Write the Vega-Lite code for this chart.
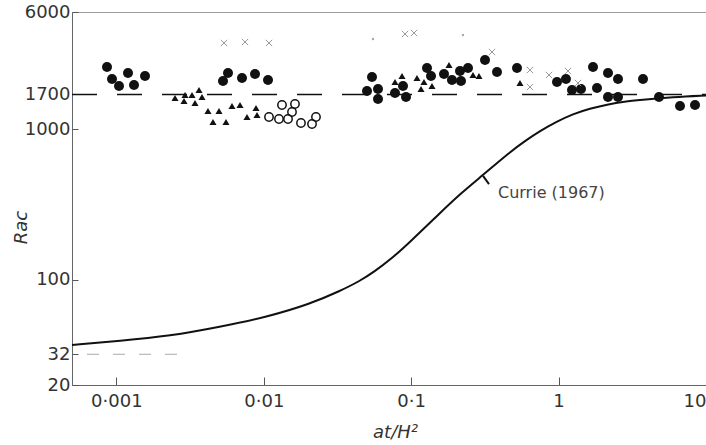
{
  "$schema": "https://vega.github.io/schema/vega-lite/v6.json",
  "width": 634,
  "height": 373,
  "autosize": {"type": "none"},
  "padding": {"left": 72, "top": 12, "right": 0, "bottom": 60},
  "background": "white",
  "config": {"view": {"stroke": "#9a9a9a", "strokeWidth": 1}, "font": "DejaVu Sans"},
  "datasets": {
    "curve": [
      {"t": 0.0005, "ra": 36.9}, {"t": 0.001058, "ra": 39.2}, {"t": 0.002311, "ra": 42.3},
      {"t": 0.005047, "ra": 48.6}, {"t": 0.01051, "ra": 56.6}, {"t": 0.02058, "ra": 69.0},
      {"t": 0.03289, "ra": 84.2}, {"t": 0.04495, "ra": 98.1}, {"t": 0.05683, "ra": 114.3},
      {"t": 0.07184, "ra": 135.3}, {"t": 0.09815, "ra": 178.1}, {"t": 0.1568, "ra": 277.5},
      {"t": 0.2143, "ra": 371.1}, {"t": 0.3071, "ra": 496.2}, {"t": 0.4681, "ra": 705.3},
      {"t": 0.5918, "ra": 834.4}, {"t": 0.7479, "ra": 972.3}, {"t": 0.9601, "ra": 1116},
      {"t": 1.252, "ra": 1261}, {"t": 1.633, "ra": 1372}, {"t": 2.13, "ra": 1458},
      {"t": 2.82, "ra": 1527}, {"t": 3.566, "ra": 1562}, {"t": 5.972, "ra": 1636},
      {"t": 10, "ra": 1674}
    ],
    "filled": [
      {"t": 0.000864, "ra": 2588}, {"t": 0.000934, "ra": 2154}, {"t": 0.001042, "ra": 1935},
      {"t": 0.001199, "ra": 2361}, {"t": 0.001317, "ra": 1965}, {"t": 0.001564, "ra": 2255},
      {"t": 0.005718, "ra": 2361}, {"t": 0.005289, "ra": 2089}, {"t": 0.007116, "ra": 2187},
      {"t": 0.008718, "ra": 2325}, {"t": 0.01068, "ra": 2121},
      {"t": 0.05422, "ra": 2221}, {"t": 0.05015, "ra": 1793}, {"t": 0.05954, "ra": 1849},
      {"t": 0.05954, "ra": 1586}, {"t": 0.07767, "ra": 1739}, {"t": 0.08802, "ra": 1935},
      {"t": 0.09221, "ra": 1636}, {"t": 0.128, "ra": 2549}, {"t": 0.1363, "ra": 2255},
      {"t": 0.167, "ra": 2325}, {"t": 0.1891, "ra": 2121}, {"t": 0.2177, "ra": 2089},
      {"t": 0.2143, "ra": 2434}, {"t": 0.2429, "ra": 2549}, {"t": 0.3168, "ra": 2880},
      {"t": 0.3821, "ra": 2397}, {"t": 0.5222, "ra": 2549}, {"t": 0.9752, "ra": 2057},
      {"t": 1.122, "ra": 2154}, {"t": 1.233, "ra": 1821}, {"t": 1.419, "ra": 1849},
      {"t": 1.712, "ra": 2588}, {"t": 1.822, "ra": 1877}, {"t": 2.163, "ra": 2361},
      {"t": 2.163, "ra": 1636}, {"t": 2.529, "ra": 2154}, {"t": 2.529, "ra": 1636},
      {"t": 3.738, "ra": 2154}, {"t": 4.799, "ra": 1636}, {"t": 6.663, "ra": 1425},
      {"t": 8.422, "ra": 1447}
    ],
    "tri": [
      {"t": 0.002499, "ra": 1611}, {"t": 0.002876, "ra": 1539}, {"t": 0.002922, "ra": 1686},
      {"t": 0.003259, "ra": 1686}, {"t": 0.003635, "ra": 1821}, {"t": 0.003809, "ra": 1636},
      {"t": 0.003415, "ra": 1492}, {"t": 0.004182, "ra": 1320}, {"t": 0.004968, "ra": 1320},
      {"t": 0.004523, "ra": 1116}, {"t": 0.005542, "ra": 1116}, {"t": 0.006086, "ra": 1425},
      {"t": 0.006898, "ra": 1447}, {"t": 0.007695, "ra": 1205}, {"t": 0.008995, "ra": 1242},
      {"t": 0.008856, "ra": 1382}, {"t": 0.07767, "ra": 2057}, {"t": 0.08665, "ra": 2255},
      {"t": 0.1095, "ra": 2187}, {"t": 0.1166, "ra": 1849}, {"t": 0.1221, "ra": 2057},
      {"t": 0.1384, "ra": 1935}, {"t": 0.1805, "ra": 2669}, {"t": 0.2626, "ra": 2290},
      {"t": 0.2884, "ra": 2255}, {"t": 0.5471, "ra": 2026}
    ],
    "open": [
      {"t": 0.01085, "ra": 1205}, {"t": 0.01268, "ra": 1168}, {"t": 0.01329, "ra": 1447},
      {"t": 0.01628, "ra": 1470}, {"t": 0.01554, "ra": 1300}, {"t": 0.0146, "ra": 1168},
      {"t": 0.01788, "ra": 1099}, {"t": 0.02124, "ra": 1082}, {"t": 0.0226, "ra": 1205}
    ],
    "cross": [
      {"t": 0.005372, "ra": 3736}, {"t": 0.007458, "ra": 3793}, {"t": 0.01085, "ra": 3736},
      {"t": 0.09078, "ra": 4286}, {"t": 0.1045, "ra": 4352}, {"t": 0.3534, "ra": 3254},
      {"t": 0.6397, "ra": 2472}, {"t": 0.6397, "ra": 1906}, {"t": 0.8608, "ra": 2290},
      {"t": 1.158, "ra": 2434}, {"t": 1.354, "ra": 2026}
    ],
    "dots": [
      {"t": 0.05507, "ra": 3972}, {"t": 0.2246, "ra": 4221}
    ],
    "line1700": [{"t": 0.0005, "ra": 1700}, {"t": 10, "ra": 1700}],
    "line32": [{"t": 0.000632, "ra": 32}, {"t": 0.00316, "ra": 32}],
    "leader": [{"t": 0.3071, "ra": 489}, {"t": 0.3372, "ra": 432}],
    "label": [{"t": 0.3881, "ra": 377, "text": "Currie (1967)"}]
  },
  "encoding": {
    "x": {
      "field": "t", "type": "quantitative",
      "scale": {"type": "log", "domain": [0.0005, 10], "nice": false},
      "axis": {
        "values": [0.001, 0.01, 0.1, 1, 10],
        "labelExpr": "datum.value < 0.005 ? '0·001' : datum.value < 0.05 ? '0·01' : datum.value < 0.5 ? '0·1' : datum.value < 5 ? '1' : '10'",
        "labelAlign": {"expr": "datum.value > 5 ? 'right' : 'center'"},
        "grid": false, "tickSize": -8, "tickColor": "#555", "domainColor": "#666",
        "labelFontSize": 18, "labelColor": "#333", "labelPadding": 15,
        "labelFlush": false, "labelOverlap": false, "labelBound": false,
        "title": "at/H²", "titleFontSize": 18, "titleFontStyle": "italic", "titleFontWeight": "normal",
        "titleColor": "#333", "titleX": 323, "titleY": 38
      }
    },
    "y": {
      "field": "ra", "type": "quantitative",
      "scale": {"type": "log", "domain": [20, 6000], "nice": false},
      "axis": {
        "values": [20, 32, 100, 1000, 1700, 6000], "format": "d",
        "grid": false, "tickSize": -6, "tickColor": "#555", "domainColor": "#666",
        "labelFontSize": 18, "labelColor": "#333", "labelPadding": 8,
        "labelFlush": false, "labelOverlap": false, "labelBound": false,
        "title": "Raᴄ", "titleFontSize": 18, "titleFontStyle": "italic", "titleFontWeight": "normal",
        "titleColor": "#333", "titleX": -42, "titleY": 215
      }
    }
  },
  "layer": [
    {"data": {"name": "line1700"}, "mark": {"type": "line", "color": "#111", "strokeWidth": 1.5, "strokeDash": [25, 20]}, "encoding": {}},
    {"data": {"name": "line32"}, "mark": {"type": "line", "color": "#aaa", "strokeWidth": 1, "strokeDash": [12, 14]}, "encoding": {}},
    {"data": {"name": "curve"}, "mark": {"type": "line", "color": "#111", "strokeWidth": 2, "interpolate": "basis"}, "encoding": {}},
    {"data": {"name": "leader"}, "mark": {"type": "line", "color": "#111", "strokeWidth": 2}, "encoding": {}},
    {"data": {"name": "filled"}, "mark": {"type": "point", "shape": "circle", "filled": true, "color": "#111", "size": 100, "opacity": 1}},
    {"data": {"name": "tri"}, "mark": {"type": "point", "shape": "triangle-up", "filled": true, "color": "#111", "size": 50, "opacity": 1}},
    {"data": {"name": "open"}, "mark": {"type": "point", "shape": "circle", "filled": false, "color": "#111", "size": 70, "strokeWidth": 1.5, "opacity": 1}},
    {"data": {"name": "cross"}, "mark": {"type": "point", "shape": "M-1,-1L1,1M1,-1L-1,1", "filled": false, "color": "#999", "size": 40, "strokeWidth": 1, "opacity": 1}},
    {"data": {"name": "dots"}, "mark": {"type": "point", "shape": "circle", "filled": true, "color": "#aaa", "size": 6, "opacity": 1}},
    {"data": {"name": "label"}, "mark": {"type": "text", "align": "left", "baseline": "middle", "fontSize": 16, "color": "#444"}, "encoding": {"text": {"field": "text"}}}
  ]
}
